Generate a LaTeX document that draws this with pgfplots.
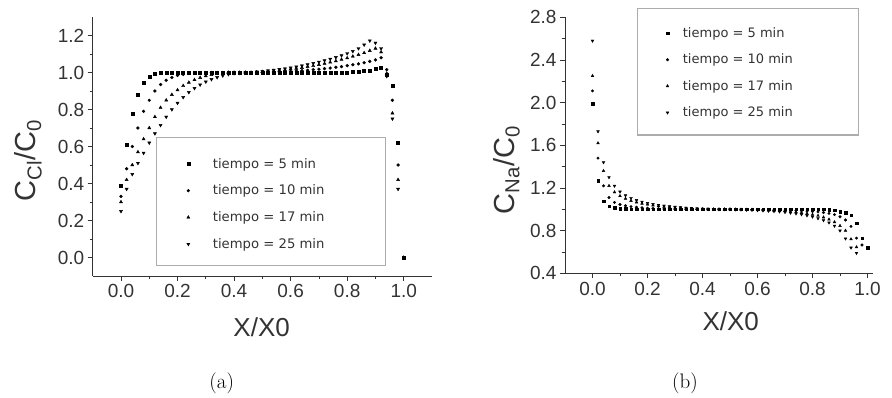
\documentclass[border=0pt]{standalone}
\usepackage{fontspec}
\usepackage{pgfplots}
\pgfplotsset{compat=1.18}
\newfontfamily\arial{Liberation Sans}
\newfontfamily\dejavu{DejaVu Sans}
\definecolor{axgray}{gray}{0.2}
\pgfplotsset{
  mystyle/.style={
    scale only axis, anchor=south west, clip=false,
    axis lines=left, axis line style={-, axgray, line width=0.9pt},
    tick style={axgray, line width=0.8pt},
    tick align=outside, major tick length=5pt, minor tick length=3pt,
    minor x tick num=1, minor y tick num=1,
    /pgf/number format/assume math mode=true,
    tick label style={font=\arial\fontsize{19}{19}\selectfont, text=axgray},
    xticklabel style={/pgf/number format/.cd, fixed, fixed zerofill, precision=1},
    yticklabel style={/pgf/number format/.cd, fixed, fixed zerofill, precision=1},
    scaled ticks=false,
    xlabel style={font=\arial\fontsize{26}{26}\selectfont, text=axgray},
    ylabel style={font=\arial\fontsize{29}{29}\selectfont, text=axgray},
    legend cell align=left,
    legend style={draw=none, fill=none, anchor=north west, inner sep=0pt,
      font=\dejavu\fontsize{13.2}{15}\selectfont, text=axgray,
      nodes={inner sep=0pt}, row sep=15.2pt},
    legend image code/.code={\draw[mark repeat=2,mark phase=2,#1] plot coordinates {(0pt,0pt)(5pt,0pt)(10pt,0pt)};},
  }
}
\begin{document}
\begin{tikzpicture}
\path[use as bounding box] (0pt,0pt) rectangle (892pt,398pt);
% ---------------- (a) ----------------
\begin{axis}[mystyle,
  at={(92.7pt,122pt)}, width=339.3pt, height=259pt,
  xmin=-0.1, xmax=1.1, ymin=-0.1, ymax=1.3,
  xtick={0,0.2,0.4,0.6,0.8,1.0}, ytick={0,0.2,0.4,0.6,0.8,1.0,1.2},
  xlabel={X/X0}, ylabel={C\textsubscript{Cl}/C\textsubscript{0}},
  xlabel style={at={(axis description cs:0.498,-0.196)}, anchor=center},
  ylabel style={at={(axis description cs:-0.19,0.445)}, anchor=center, rotate=0},
  legend style={at={(axis cs:0.232,0.538)}, /tikz/every odd column/.append style={column sep=23pt}},
]
\draw[gray!65, line width=1.2pt] (axis cs:0.127,0.649) rectangle (axis cs:0.935,-0.045);
\addplot[only marks, mark=square*, mark size=1.5pt, black] table {
x y
0 0.39
0.02 0.61
0.04 0.775
0.06 0.88
0.08 0.945
0.10 0.978
0.12 0.993
0.14 0.998
0.16 1.0
0.18 1.0
0.20 1.0
0.22 1.0
0.24 1.0
0.26 1.0
0.28 1.0
0.30 1.0
0.32 1.0
0.34 1.0
0.36 1.0
0.38 1.0
0.40 1.0
0.42 1.0
0.44 1.0
0.46 1.0
0.48 1.0
0.50 1.0
0.52 1.0
0.54 1.0
0.56 1.0
0.58 1.0
0.60 1.0
0.62 1.0
0.64 1.0
0.66 1.0
0.68 1.0
0.70 1.0
0.72 1.0
0.74 1.0
0.76 1.0
0.78 1.0
0.80 1.0
0.82 1.002
0.84 1.005
0.86 1.008
0.88 1.012
0.90 1.018
0.92 1.028
0.94 0.99
0.96 0.93
0.98 0.62
1.00 0.0
};
\addlegendentry{tiempo = 5 min}
\addplot[only marks, mark=*, mark size=1.45pt, black] table {
x y
0 0.33
0.02 0.48
0.04 0.60
0.06 0.70
0.08 0.79
0.10 0.85
0.12 0.90
0.14 0.935
0.16 0.958
0.18 0.973
0.20 0.984
0.22 0.99
0.24 0.995
0.26 0.998
0.28 1.0
0.30 1.0
0.32 1.0
0.34 1.0
0.36 1.0
0.38 1.0
0.40 1.0
0.42 1.0
0.44 1.0
0.46 1.0
0.48 1.0
0.50 1.0
0.52 1.0
0.54 1.001
0.56 1.003
0.58 1.004
0.60 1.006
0.62 1.008
0.64 1.01
0.66 1.012
0.68 1.015
0.70 1.018
0.72 1.021
0.74 1.024
0.76 1.028
0.78 1.032
0.80 1.037
0.82 1.042
0.84 1.047
0.86 1.053
0.88 1.06
0.90 1.068
0.92 1.08
0.94 1.015
0.96 0.85
0.98 0.50
1.00 0.0
};
\addlegendentry{tiempo = 10 min}
\addplot[only marks, mark=triangle*, mark size=1.8pt, black] table {
x y
0 0.30
0.02 0.42
0.04 0.50
0.06 0.57
0.08 0.64
0.10 0.70
0.12 0.76
0.14 0.81
0.16 0.85
0.18 0.88
0.20 0.905
0.22 0.928
0.24 0.946
0.26 0.96
0.28 0.972
0.30 0.981
0.32 0.988
0.34 0.993
0.36 0.997
0.38 1.0
0.40 1.0
0.42 1.0
0.44 1.0
0.46 1.0
0.48 1.002
0.50 1.004
0.52 1.006
0.54 1.008
0.56 1.011
0.58 1.014
0.60 1.018
0.62 1.022
0.64 1.026
0.66 1.031
0.68 1.036
0.70 1.042
0.72 1.048
0.74 1.055
0.76 1.062
0.78 1.07
0.80 1.078
0.82 1.087
0.84 1.096
0.86 1.106
0.88 1.118
0.90 1.13
0.92 1.11
0.94 0.995
0.96 0.78
0.98 0.42
1.00 0.0
};
\addlegendentry{tiempo = 17 min}
\addplot[only marks, mark=triangle*, mark options={rotate=180}, mark size=1.8pt, black] table {
x y
0 0.25
0.02 0.37
0.04 0.45
0.06 0.51
0.08 0.565
0.10 0.62
0.12 0.67
0.14 0.715
0.16 0.76
0.18 0.80
0.20 0.835
0.22 0.866
0.24 0.893
0.26 0.915
0.28 0.934
0.30 0.95
0.32 0.963
0.34 0.974
0.36 0.983
0.38 0.99
0.40 0.995
0.42 0.998
0.44 1.0
0.46 1.002
0.48 1.004
0.50 1.007
0.52 1.01
0.54 1.013
0.56 1.017
0.58 1.021
0.60 1.026
0.62 1.031
0.64 1.037
0.66 1.043
0.68 1.05
0.70 1.057
0.72 1.065
0.74 1.073
0.76 1.082
0.78 1.092
0.80 1.103
0.82 1.115
0.84 1.13
0.86 1.15
0.88 1.172
0.90 1.16
0.92 1.13
0.94 0.98
0.96 0.75
0.98 0.37
1.00 0.0
};
\addlegendentry{tiempo = 25 min}
\end{axis}
% ---------------- (b) ----------------
\begin{axis}[mystyle,
  at={(565pt,124.7pt)}, width=308pt, height=256pt,
  xmin=-0.1, xmax=1.02, ymin=0.4, ymax=2.8,
  xtick={0,0.2,0.4,0.6,0.8,1.0}, ytick={0.4,0.8,1.2,1.6,2.0,2.4,2.8},
  xlabel={X/X0}, ylabel={C\textsubscript{Na}/C\textsubscript{0}},
  xlabel style={at={(axis description cs:0.538,-0.189)}, anchor=center},
  ylabel style={at={(axis description cs:-0.19,0.403)}, anchor=center},
  legend style={at={(axis cs:0.267,2.706)}, font=\dejavu\fontsize{13}{15}\selectfont, row sep=15.1pt, /tikz/every odd column/.append style={column sep=14pt}},
]
\draw[gray!65, line width=1.2pt] (axis cs:0.165,1.697) rectangle (axis cs:0.967,2.884);
\addplot[only marks, mark=square*, mark size=1.3pt, black] table {
x y
0 1.99
0.02 1.27
0.04 1.075
0.06 1.03
0.08 1.015
0.10 1.008
0.12 1.004
0.14 1.002
0.16 1.0
0.18 1.0
0.20 1.0
0.22 1.0
0.24 1.0
0.26 1.0
0.28 1.0
0.30 1.0
0.32 1.0
0.34 1.0
0.36 1.0
0.38 1.0
0.40 1.0
0.42 1.0
0.44 1.0
0.46 1.0
0.48 1.0
0.50 1.0
0.52 1.0
0.54 1.0
0.56 1.0
0.58 1.0
0.60 1.0
0.62 1.0
0.64 1.0
0.66 1.0
0.68 1.0
0.70 1.0
0.72 1.0
0.74 1.0
0.76 1.0
0.78 1.0
0.80 1.0
0.82 1.0
0.84 1.0
0.86 0.998
0.88 0.99
0.90 0.98
0.92 0.97
0.94 0.945
0.96 0.87
0.98 0.73
1.00 0.64
};
\addlegendentry{tiempo = 5 min}
\addplot[only marks, mark=*, mark size=1.3pt, black] table {
x y
0 2.11
0.02 1.48
0.04 1.22
0.06 1.11
0.08 1.065
0.10 1.045
0.12 1.033
0.14 1.025
0.16 1.019
0.18 1.014
0.20 1.01
0.22 1.007
0.24 1.005
0.26 1.003
0.28 1.002
0.30 1.0
0.32 1.0
0.34 1.0
0.36 1.0
0.38 1.0
0.40 1.0
0.42 1.0
0.44 1.0
0.46 1.0
0.48 1.0
0.50 1.0
0.52 0.999
0.54 0.999
0.56 0.998
0.58 0.998
0.60 0.997
0.62 0.996
0.64 0.995
0.66 0.994
0.68 0.993
0.70 0.992
0.72 0.99
0.74 0.988
0.76 0.986
0.78 0.983
0.80 0.98
0.82 0.976
0.84 0.97
0.86 0.962
0.88 0.95
0.90 0.93
0.92 0.90
0.94 0.84
0.96 0.73
0.98 0.665
};
\addlegendentry{tiempo = 10 min}
\addplot[only marks, mark=triangle*, mark size=1.6pt, black] table {
x y
0 2.25
0.02 1.62
0.04 1.36
0.06 1.22
0.08 1.16
0.10 1.125
0.12 1.10
0.14 1.08
0.16 1.066
0.18 1.054
0.20 1.045
0.22 1.037
0.24 1.03
0.26 1.024
0.28 1.019
0.30 1.015
0.32 1.011
0.34 1.008
0.36 1.005
0.38 1.003
0.40 1.001
0.42 1.0
0.44 1.0
0.46 1.0
0.48 1.0
0.50 1.0
0.52 0.999
0.54 0.998
0.56 0.997
0.58 0.996
0.60 0.994
0.62 0.992
0.64 0.99
0.66 0.988
0.68 0.985
0.70 0.982
0.72 0.978
0.74 0.973
0.76 0.967
0.78 0.96
0.80 0.95
0.82 0.94
0.84 0.925
0.86 0.905
0.88 0.88
0.90 0.845
0.92 0.80
0.94 0.72
0.96 0.645
};
\addlegendentry{tiempo = 17 min}
\addplot[only marks, mark=triangle*, mark options={rotate=180}, mark size=1.6pt, black] table {
x y
0 2.58
0.02 1.73
0.04 1.44
0.06 1.30
0.08 1.22
0.10 1.165
0.12 1.13
0.14 1.105
0.16 1.085
0.18 1.07
0.20 1.058
0.22 1.048
0.24 1.04
0.26 1.033
0.28 1.027
0.30 1.022
0.32 1.017
0.34 1.013
0.36 1.01
0.38 1.007
0.40 1.005
0.42 1.003
0.44 1.001
0.46 1.0
0.48 1.0
0.50 1.0
0.52 0.998
0.54 0.997
0.56 0.995
0.58 0.993
0.60 0.99
0.62 0.988
0.64 0.985
0.66 0.982
0.68 0.978
0.70 0.973
0.72 0.967
0.74 0.96
0.76 0.952
0.78 0.942
0.80 0.93
0.82 0.915
0.84 0.897
0.86 0.875
0.88 0.845
0.90 0.80
0.92 0.725
0.94 0.64
0.96 0.59
};
\addlegendentry{tiempo = 25 min}
\end{axis}
\node[font=\fontsize{21}{21}\selectfont] at (221.7pt,15pt) {(a)};
\node[font=\fontsize{21}{21}\selectfont] at (685pt,15pt) {(b)};
\end{tikzpicture}
\end{document}
